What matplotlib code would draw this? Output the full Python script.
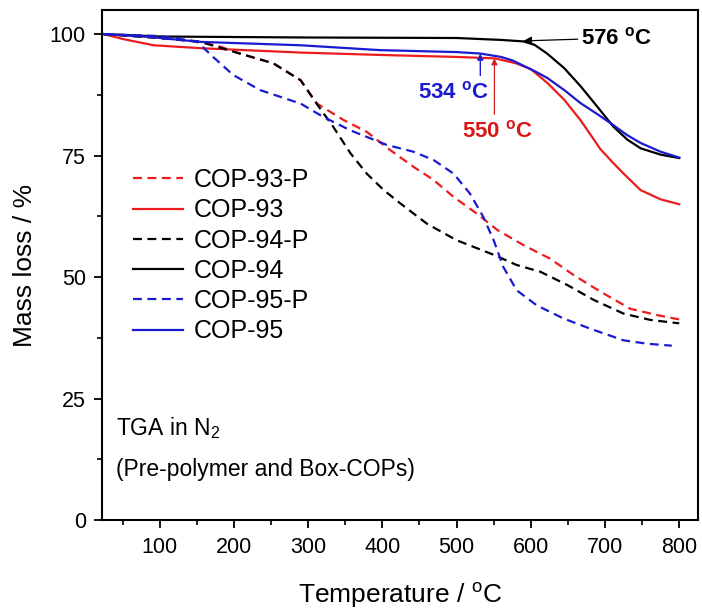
import matplotlib
matplotlib.use("Agg")
import matplotlib.pyplot as plt

plt.rcParams['font.family'] = ['Liberation Sans', 'DejaVu Sans']
plt.rcParams['mathtext.fontset'] = 'custom'
plt.rcParams['mathtext.rm'] = 'Liberation Sans'

RED = '#ec1c1c'
BLUE = '#1a1ad0'
BLACK = '#000000'

# COP-93-P (red dashed)
t_93p = [25, 100, 155, 180, 208, 253, 290, 312, 348, 379, 411, 442, 469, 496, 527,
         555, 590, 626, 658, 694, 734, 770, 800]
m_93p = [100, 99.2, 98.4, 97.5, 96.0, 94.0, 90.5, 85.7, 82.3, 79.9, 76.1, 72.7, 70.0,
         66.5, 63.1, 59.7, 56.6, 53.8, 50.4, 47.0, 43.5, 42.2, 41.3]

# COP-93 (red solid)
t_93 = [25, 50, 92, 155, 290, 400, 500, 552, 580, 600, 622, 645, 667, 694, 711, 725,
        748, 775, 800]
m_93 = [100, 99.0, 97.7, 97.1, 96.2, 95.7, 95.3, 95.0, 94.0, 92.8, 90.0, 86.5, 82.3,
        76.3, 73.5, 71.3, 67.9, 66.0, 65.0]

# COP-94-P (black dashed)
t_94p = [25, 100, 155, 208, 253, 290, 310, 334, 357, 379, 402, 424, 460, 500, 550,
         581, 613, 649, 685, 725, 761, 800]
m_94p = [100, 99.2, 98.4, 96.0, 94.0, 90.5, 86.0, 80.9, 75.5, 71.3, 67.9, 65.2, 61.0,
         57.6, 54.6, 52.5, 51.1, 48.4, 45.3, 42.5, 41.2, 40.5]

# COP-94 (black solid)
t_94 = [25, 100, 300, 500, 560, 590, 605, 622, 645, 667, 690, 711, 730, 748, 775, 800]
m_94 = [100, 99.5, 99.3, 99.2, 98.8, 98.5, 97.8, 96.0, 93.0, 89.3, 85.0, 81.0, 78.3,
        76.5, 75.2, 74.5]

# COP-95-P (blue dashed)
t_95p = [25, 100, 150, 172, 199, 235, 276, 290, 320, 357, 406, 442, 469, 496, 518,
         536, 550, 563, 581, 608, 644, 680, 725, 757, 790]
m_95p = [100, 99.6, 98.5, 95.3, 91.6, 88.5, 86.4, 85.7, 83.0, 80.2, 77.2, 75.8, 74.1,
         71.3, 67.2, 62.4, 57.6, 52.1, 47.3, 44.2, 41.5, 39.4, 37.0, 36.3, 35.9]

# COP-95 (blue solid)
t_95 = [25, 87, 155, 290, 397, 500, 532, 560, 575, 590, 605, 622, 645, 667, 690, 711,
        730, 748, 775, 800]
m_95 = [100, 99.4, 98.4, 97.7, 96.7, 96.3, 96.0, 95.3, 94.6, 93.5, 92.4, 91.0, 88.5,
        85.8, 83.5, 81.3, 79.2, 77.6, 75.8, 74.6]

fig = plt.figure(figsize=(7.02, 6.12), dpi=100)
ax = fig.add_axes([0.146, 0.150, 0.848, 0.834])

lw = 1.6
dash = (0, (4, 2.5))
ax.plot(t_93p, m_93p, color=RED, lw=lw, linestyle=dash, label='COP-93-P')
ax.plot(t_93, m_93, color=RED, lw=lw, label='COP-93')
ax.plot(t_94p, m_94p, color=BLACK, lw=lw, linestyle=dash, label='COP-94-P')
ax.plot(t_94, m_94, color=BLACK, lw=lw, label='COP-94')
ax.plot(t_95p, m_95p, color=BLUE, lw=lw, linestyle=dash, label='COP-95-P')
ax.plot(t_95, m_95, color=BLUE, lw=lw, label='COP-95')

ax.set_xlim(23, 825)
ax.set_ylim(0, 105)
ax.set_xticks(range(100, 801, 100))
ax.set_xticks(range(50, 801, 100), minor=True)
ax.set_yticks([0, 25, 50, 75, 100])
ax.set_yticks([12.5, 37.5, 62.5, 87.5], minor=True)
ax.tick_params(which='major', direction='out', length=6, width=1.3, labelsize=15.5, pad=6)
ax.tick_params(which='minor', direction='out', length=3.5, width=1.2)
for s in ax.spines.values():
    s.set_linewidth(1.5)

ax.set_xlabel('Temperature / $^{\\mathregular{o}}$C', fontsize=19, labelpad=16)
ax.set_ylabel('Mass loss / %', fontsize=19, labelpad=9)

ax.legend(loc='upper left', bbox_to_anchor=(0.051, 0.69), frameon=False, fontsize=18,
          handlelength=2.0, handletextpad=0.42, labelspacing=0.25, borderaxespad=0,
          borderpad=0)

# onset annotations
ax.annotate('576 $^{\\mathregular{o}}$C', xy=(590, 98.6), xytext=(667, 99.2),
            fontsize=16, fontweight='bold', color=BLACK, va='center', ha='left',
            arrowprops=dict(arrowstyle='-|>', color=BLACK, lw=0.9, mutation_scale=12,
                            shrinkA=0, shrinkB=0))
ax.annotate('', xy=(532, 96.0), xytext=(532, 91.5),
            arrowprops=dict(arrowstyle='-|>', color=BLUE, lw=1.0, mutation_scale=9,
                            shrinkA=0, shrinkB=0))
ax.text(496, 88, '534 $^{\\mathregular{o}}$C', fontsize=16, fontweight='bold',
        color=BLUE, ha='center', va='center')
ax.annotate('', xy=(551, 95.0), xytext=(551, 83.5),
            arrowprops=dict(arrowstyle='-|>', color='#d02020', lw=0.9, mutation_scale=9,
                            shrinkA=0, shrinkB=0))
ax.text(555, 79.9, '550 $^{\\mathregular{o}}$C', fontsize=16, fontweight='bold',
        color='#d81818', ha='center', va='center')

ax.text(41, 19, 'TGA in N$_\\mathregular{2}$', fontsize=16.5, va='center', ha='left')
ax.text(41, 10.5, '(Pre-polymer and Box-COPs)', fontsize=16.5, va='center', ha='left')

fig.savefig('out.png', dpi=100)
